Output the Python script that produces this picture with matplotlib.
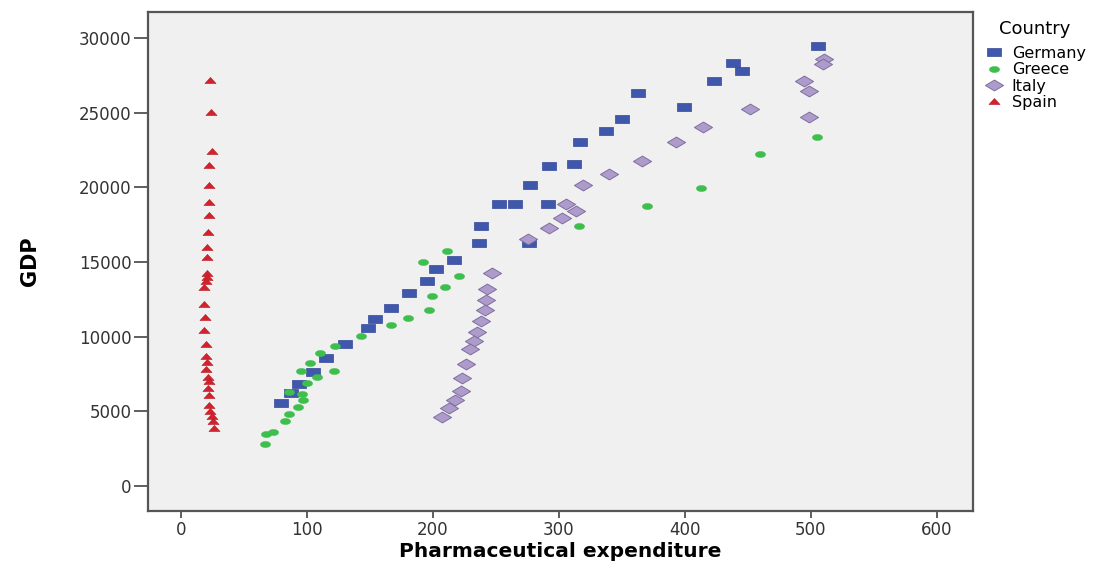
import numpy as np
import matplotlib.pyplot as plt
from matplotlib.path import Path
from matplotlib.transforms import Affine2D
from matplotlib.lines import Line2D

# ── Data ──
germany_x = [505.8, 438.3, 445.5, 422.7, 362.9, 399.0, 350.3, 337.0, 316.7, 292.3,
             311.6, 277.2, 252.1, 265.3, 291.0, 238.3, 236.5, 275.9, 216.4, 202.4,
             195.2, 181.2, 166.4, 154.2, 148.7, 130.4, 115.3, 104.5, 93.4, 87.3, 79.4]
germany_y = [29485, 28349, 27791, 27121, 26297, 25360, 24597, 23773, 23058, 21429,
             21543, 20136, 18864, 18884, 18884, 17431, 16252, 16252, 15134, 14512,
             13750, 12902, 11940, 11162, 10560, 9509, 8594, 7634, 6851, 6248, 5538]

greece_x = [504.5, 459.5, 412.7, 369.8, 315.9, 211.4, 192.3, 220.4, 209.3, 199.4,
            197.1, 180.4, 166.7, 142.6, 122.5, 110.3, 102.4, 95.2, 121.4, 107.7,
            99.7, 85.7, 95.8, 96.6, 92.9, 85.7, 82.3, 72.8, 67.5, 66.7]
greece_y = [23393, 22212, 19956, 18731, 17431, 15757, 15021, 14043, 13306, 12744,
            11786, 11230, 10802, 10025, 9375, 8929, 8237, 7723, 7679, 7299,
            6877, 6275, 6181, 5759, 5270, 4822, 4353, 3596, 3462, 2813]

italy_x = [510.6, 509.8, 494.7, 498.7, 451.6, 498.7, 414.5, 392.9, 366.1, 339.9,
           318.8, 305.3, 313.2, 302.4, 292.1, 275.1, 247.1, 242.9, 242.1, 241.3,
           238.3, 235.2, 232.3, 229.4, 226.2, 223.3, 222.0, 217.7, 212.7, 207.4]
italy_y = [28573, 28238, 27143, 26451, 25267, 24690, 24041, 23016, 21784, 20893,
           20157, 18905, 18395, 17927, 17277, 16520, 14243, 13215, 12456, 11808,
           11029, 10333, 9731, 9174, 8170, 7212, 6382, 5759, 5223, 4641]

spain_x = [23.0, 23.6, 24.3, 22.5, 22.2, 22.5, 22.0, 21.7, 20.9, 20.4,
           20.4, 20.4, 19.8, 18.5, 18.5, 19.0, 18.5, 19.6, 19.8, 20.9,
           19.6, 21.7, 22.5, 21.7, 22.2, 22.5, 23.0, 24.3, 25.1, 26.2]
spain_y = [27188, 25066, 22434, 21474, 20135, 19040, 18127, 16988, 15983, 15313,
           14286, 14018, 13750, 13348, 12210, 11317, 10447, 9531, 8728, 8304,
           7813, 7321, 7031, 6585, 6094, 5424, 5044, 4688, 4353, 3907]

countries = ["Germany", "Greece", "Italy", "Spain"]

# ── Flattened markers (the source picture is stretched sideways) ──
def squash(path, sy):
    return path.transformed(Affine2D().scale(1.0, sy))

sq = squash(Path.unit_rectangle().transformed(Affine2D().translate(-0.5, -0.5)), 0.62)
circ = squash(Path.unit_circle(), 0.6)
diam = squash(Path([(0, 1), (1, 0), (0, -1), (-1, 0), (0, 1)],
                   [Path.MOVETO, Path.LINETO, Path.LINETO, Path.LINETO, Path.CLOSEPOLY]), 0.6)
tri = squash(Path([(0, 1), (1, -1), (-1, -1), (0, 1)],
                  [Path.MOVETO, Path.LINETO, Path.LINETO, Path.CLOSEPOLY]), 0.55)

styles = {
    "Germany": dict(marker=sq, ms=9.6, mfc="#3F58AB", mec="#34489A", mew=0.5),
    "Greece": dict(marker=circ, ms=7.4, mfc="#3EBE4D", mec="#3EBE4D", mew=0.3),
    "Italy": dict(marker=diam, ms=13, mfc="#AD9BCB", mec="#7E6E9F", mew=0.7),
    "Spain": dict(marker=tri, ms=8.0, mfc="#D2222D", mec="#B81C26", mew=0.4),
}
data = {
    "Germany": (germany_x, germany_y),
    "Greece": (greece_x, greece_y),
    "Italy": (italy_x, italy_y),
    "Spain": (spain_x, spain_y),
}

plt.rcParams["font.family"] = ["DejaVu Sans"]

fig = plt.figure(figsize=(11.17, 5.63), dpi=100)
ax = fig.add_axes([0.1325, 0.0924, 0.7386, 0.8863])
ax.set_facecolor("#F0F0F0")

for c in countries:
    xs, ys = data[c]
    ax.plot(xs, ys, ls="none", **styles[c])

ax.set_xlim(-26.2, 628.6)
ax.set_ylim(-1674, 31741)
ax.set_xticks(range(0, 700, 100))
ax.set_yticks(range(0, 35000, 5000))

for s in ax.spines.values():
    s.set_color("#555555")
    s.set_linewidth(1.6)
ax.tick_params(axis="both", colors="#444444", labelcolor="#333333",
               labelsize=12, width=1.2)
ax.tick_params(axis="y", length=10, pad=2)
ax.tick_params(axis="x", length=5, pad=2)

ax.set_xlabel("Pharmaceutical expenditure", fontsize=14.5, fontweight="bold")
ax.xaxis.set_label_coords(0.5, -0.082)
ax.xaxis.label.set_va("center")
ax.set_ylabel("GDP", fontsize=15, fontweight="bold")
ax.yaxis.set_label_coords(-0.143, 0.5)
ax.yaxis.label.set_va("center")

handles = [Line2D([], [], ls="none", **styles[c]) for c in countries]
leg = fig.legend(handles, countries, title="Country", loc="upper left",
                 bbox_to_anchor=(0.88, 0.968), frameon=False, fontsize=11.5,
                 title_fontsize=13, handlelength=1.2, handletextpad=0.5,
                 labelspacing=0.08, borderaxespad=0, borderpad=0.1)
leg._legend_box.align = "center"
leg._legend_box.sep = 6

fig.savefig("out.png", dpi=100, facecolor="white")
